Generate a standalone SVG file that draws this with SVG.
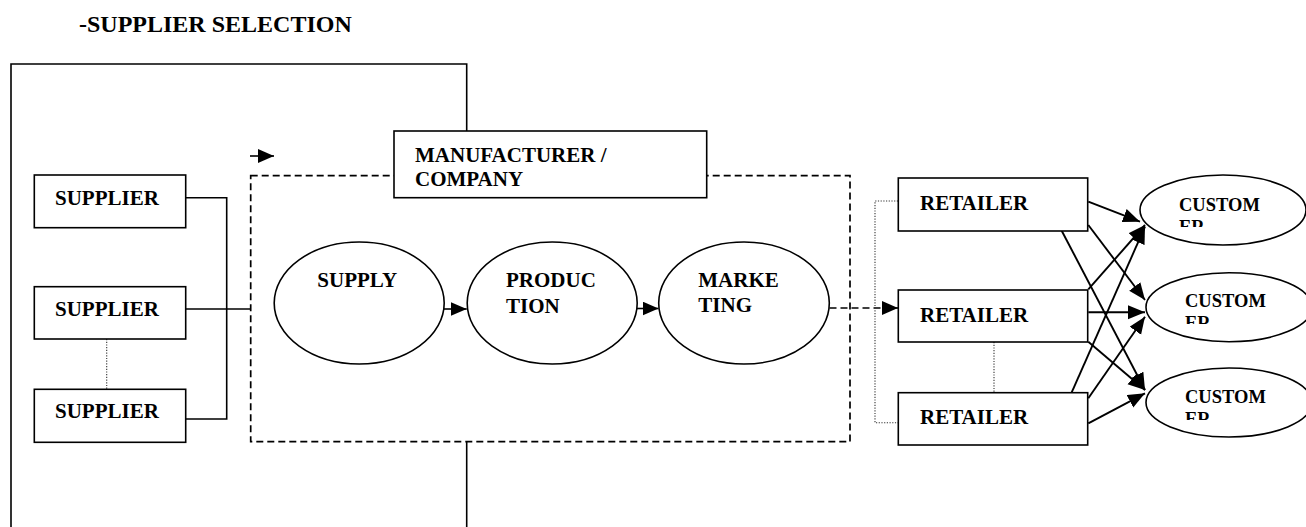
<svg xmlns="http://www.w3.org/2000/svg" width="1306" height="527" viewBox="0 0 1306 527">
<style>
text{font-family:"Liberation Serif","Times New Roman",serif;font-weight:bold;fill:#000}
.t{font-size:21px}
.c{font-size:18.5px}
.box{fill:#fff;stroke:#000;stroke-width:1.6}
.ell{fill:#fff;stroke:#000;stroke-width:1.6}
.ln{fill:none;stroke:#000;stroke-width:1.6}
.arr{fill:none;stroke:#000;stroke-width:1.9}
.dash{fill:none;stroke:#000;stroke-width:1.7;stroke-dasharray:7 4}
.dot{fill:none;stroke:#333;stroke-width:1.1;stroke-dasharray:1.2 1.5}
</style>
<defs>
<marker id="ah" markerUnits="userSpaceOnUse" markerWidth="17" markerHeight="15" refX="16" refY="7" orient="auto">
<path d="M0,0 L16,7 L0,14 z" fill="#000"/>
</marker>
<marker id="ah2" markerUnits="userSpaceOnUse" markerWidth="18" markerHeight="15" refX="17" refY="7" orient="auto">
<path d="M0,0 L17,7 L0,14 z" fill="#000"/>
</marker>
<clipPath id="cl1"><rect x="1140" y="190" width="166" height="37"/></clipPath>
<clipPath id="cl2"><rect x="1140" y="286" width="166" height="38"/></clipPath>
<clipPath id="cl3"><rect x="1140" y="382" width="166" height="38"/></clipPath>
</defs>

<text id="title" x="79" y="32" style="font-size:24px">-SUPPLIER SELECTION</text>

<g id="connectors">
<path class="ln" d="M11,527 L11,64 L466.7,64 L466.7,131"/>
<path class="ln" d="M466.7,441.7 L466.7,527"/>
<line class="ln" x1="250" y1="156" x2="274" y2="156" marker-end="url(#ah)"/>
<path class="ln" d="M185.7,197.7 L226.7,197.7 L226.7,419 L185,419"/>
<line class="ln" x1="185.7" y1="309" x2="250.7" y2="309"/>
<line class="dot" x1="106.7" y1="339" x2="106.7" y2="389.3"/>
<line class="ln" x1="444" y1="309" x2="466.7" y2="309" marker-end="url(#ah)"/>
<line class="ln" x1="637" y1="308.5" x2="658.5" y2="308.5" marker-end="url(#ah)"/>
<line class="dash" x1="829.5" y1="308" x2="884" y2="308"/>
<line class="ln" x1="883" y1="308" x2="898" y2="308" marker-end="url(#ah)"/>
<path class="dot" d="M898,201 L875,201 L875,422.7 L898,422.7"/>
<line class="dot" x1="994" y1="342" x2="994" y2="392.7"/>
<line class="arr" x1="1088.3" y1="201.7" x2="1140" y2="221.7" marker-end="url(#ah2)"/>
<line class="arr" x1="1088.3" y1="225" x2="1145" y2="300" marker-end="url(#ah2)"/>
<line class="arr" x1="1061.7" y1="230.7" x2="1145" y2="390" marker-end="url(#ah2)"/>
<line class="arr" x1="1088.3" y1="289.3" x2="1145" y2="225" marker-end="url(#ah2)"/>
<line class="arr" x1="1088.3" y1="312.3" x2="1145" y2="312.3" marker-end="url(#ah2)"/>
<line class="arr" x1="1088.3" y1="341.7" x2="1145" y2="390" marker-end="url(#ah2)"/>
<line class="arr" x1="1071.7" y1="392.3" x2="1145" y2="226.7" marker-end="url(#ah2)"/>
<line class="arr" x1="1088.3" y1="398.3" x2="1145" y2="316.7" marker-end="url(#ah2)"/>
<line class="arr" x1="1088.3" y1="423.3" x2="1145" y2="393.3" marker-end="url(#ah2)"/>
</g>

<g id="company-boundary">
<rect class="dash" x="250.7" y="175.7" width="599.3" height="266"/>
</g>

<g id="manufacturer">
<rect class="box" x="394" y="131" width="312.7" height="66.7"/>
<text class="t" x="415" y="161.7">MANUFACTURER /</text>
<text class="t" x="415" y="185.7">COMPANY</text>
</g>

<g id="supplier1">
<rect class="box" x="34.3" y="175" width="151.4" height="52.7"/>
<text class="t" x="55" y="205">SUPPLIER</text>
</g>
<g id="supplier2">
<rect class="box" x="34.3" y="286.7" width="151.4" height="52.3"/>
<text class="t" x="55" y="315.7">SUPPLIER</text>
</g>
<g id="supplier3">
<rect class="box" x="34.3" y="389.3" width="151.4" height="53"/>
<text class="t" x="55" y="418.3">SUPPLIER</text>
</g>

<g id="supply">
<ellipse class="ell" cx="359.2" cy="303" rx="85" ry="61"/>
<text class="t" x="317.3" y="286.7">SUPPLY</text>
</g>
<g id="production">
<ellipse class="ell" cx="552.2" cy="303" rx="85" ry="61"/>
<text class="t" x="506" y="287">PRODUC</text>
<text class="t" x="506" y="312.7">TION</text>
</g>
<g id="marketing">
<ellipse class="ell" cx="744" cy="303" rx="85.3" ry="61"/>
<text class="t" x="698.3" y="286.7">MARKE</text>
<text class="t" x="698.3" y="311.7">TING</text>
</g>

<g id="retailer1">
<rect class="box" x="898.3" y="178" width="189.4" height="53"/>
<text class="t" x="920" y="210">RETAILER</text>
</g>
<g id="retailer2">
<rect class="box" x="898.3" y="290" width="189.4" height="52"/>
<text class="t" x="920" y="321.7">RETAILER</text>
</g>
<g id="retailer3">
<rect class="box" x="898.3" y="392.7" width="189.4" height="52.3"/>
<text class="t" x="920" y="424.3">RETAILER</text>
</g>

<g id="customer1">
<ellipse class="ell" cx="1223" cy="210" rx="83" ry="35"/>
<g clip-path="url(#cl1)">
<text class="c" x="1179" y="211">CUSTOM</text>
<text class="c" x="1179" y="233">ER</text>
</g>
</g>
<g id="customer2">
<ellipse class="ell" cx="1229" cy="307.2" rx="83" ry="34.5"/>
<g clip-path="url(#cl2)">
<text class="c" x="1185" y="306.7">CUSTOM</text>
<text class="c" x="1185" y="328.7">ER</text>
</g>
</g>
<g id="customer3">
<ellipse class="ell" cx="1229" cy="402.5" rx="83" ry="34.5"/>
<g clip-path="url(#cl3)">
<text class="c" x="1185" y="402.7">CUSTOM</text>
<text class="c" x="1185" y="424.7">ER</text>
</g>
</g>
</svg>
